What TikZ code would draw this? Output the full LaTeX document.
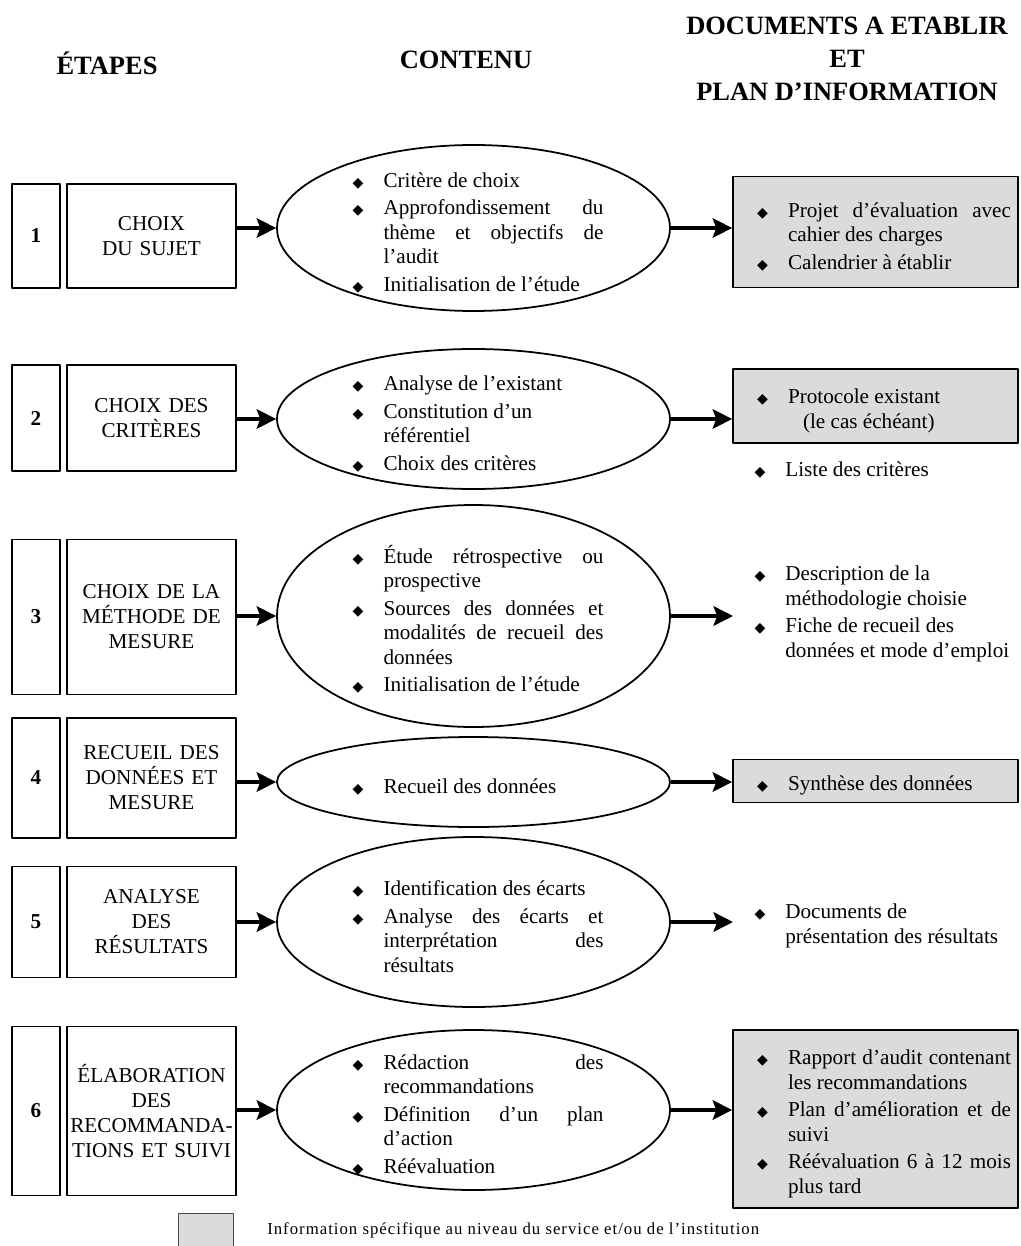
\documentclass[tikz,border=0pt]{standalone}
\usepackage{fontspec}
\setmainfont{Liberation Serif}
\newfontfamily\puces{DejaVu Sans}
\newfontfamily\legende{Liberation Serif}[LetterSpace=6]
\usepackage{enumitem}
\usetikzlibrary{shapes.geometric,arrows.meta,positioning}
\newdimen\px \px=0.567pt
\newcommand\puce{{\puces\fontsize{8}{8}\selectfont ◆}}
\setlist[itemize]{label=\puce,leftmargin=48\px,labelsep=20\px,itemsep=3\px,topsep=0pt,parsep=0pt,partopsep=0pt}
\definecolor{grisinfo}{gray}{0.86}
\begin{document}
\begin{tikzpicture}[x=\px,y=-\px,line join=round,font=\fontsize{12}{13.9}\selectfont,
		>={Stealth[length=11pt,width=11pt,inset=2pt]},
		numero/.style={draw,line width=1pt,minimum width=48\px,font=\fontsize{12}{14}\selectfont\bfseries},
		etiquette/.style={draw,line width=1pt,minimum width=169\px,text width=165\px,align=center,inner xsep=2\px,font=\fontsize{12}{14.2}\selectfont},
		bulle/.style={draw,ellipse,line width=1pt,minimum width=393\px},
		contenu/.style={text width=268\px,align=justify,inner sep=0pt,xshift=-4\px},
		doc/.style={text width=283\px,align=justify,inner xsep=4\px,inner ysep=0pt},
		gris/.style={doc,text width=271\px,inner xsep=7\px,draw,fill=grisinfo,line width=1pt},
		fleche/.style={->,line width=2pt},
		titre/.style={font=\fontsize{15}{18.5}\selectfont\bfseries,align=center}]
	\useasboundingbox (0,0) rectangle (1020,1246);
	% en-tetes
	\node[titre] (h1) at (107,63) {ÉTAPES};
	\node[titre] (h2) at (466,60) {CONTENU};
	\node[titre] (h3) at (847,59) {DOCUMENTS A ETABLIR\\ET\\PLAN D'INFORMATION};
	% etapes et bulles
	\foreach \i/\yb/\hb/\txt/\ye/\he in {
		1/236/104/{CHOIX\\DU SUJET}/228/166,
		2/418/106/{CHOIX DES\\CRITÈRES}/419/140,
		3/617/155/{CHOIX DE LA\\MÉTHODE DE\\MESURE}/616/222,
		4/778/120/{RECUEIL DES\\DONNÉES ET\\MESURE}/782/90,
		5/922/111/{ANALYSE\\DES\\RÉSULTATS}/922/170,
		6/1111/169/{ÉLABORATION\\DES\\RECOMMANDA-\\TIONS ET SUIVI}/1110/160}{
		\node[numero,minimum height=\hb\px] (n\i) at (36,\yb) {\i};
		\node[etiquette,minimum height=\hb\px] (l\i) at (151.5,\yb) {\txt};
		\node[bulle,minimum height=\he\px] (e\i) at (473.5,\ye) {};
		\draw[fleche] (l\i.east |- e\i.west) -- (e\i.west);
	};
	% contenu
	\node[contenu] (c1) at (e1) {\begin{itemize}
			\item Critère de choix
			\item Approfondissement du\linebreak thème et objectifs de\linebreak l’audit
			\item Initialisation de l’étude
		\end{itemize}};
	\node[contenu] (c2) at (e2) {\begin{itemize}
			\item Analyse de l’existant
			\item Constitution d’un\newline référentiel
			\item Choix des critères
		\end{itemize}};
	\node[contenu] (c3) at (e3) {\begin{itemize}
			\item Étude rétrospective ou\linebreak prospective
			\item Sources des données et\linebreak modalités de recueil des\linebreak données
			\item Initialisation de l’étude
		\end{itemize}};
	\node[contenu] (c4) at (e4) {\begin{itemize}
			\item Recueil des données
		\end{itemize}};
	\node[contenu] (c5) at (e5) {\begin{itemize}
			\item Identification des écarts
			\item Analyse des écarts et\linebreak interprétation des\linebreak résultats
		\end{itemize}};
	\node[contenu] (c6) at (e6) {\begin{itemize}
			\item Rédaction des\linebreak recommandations
			\item Définition d’un plan\linebreak d’action
			\item Réévaluation
		\end{itemize}};
	% documents
	\node[gris,minimum height=111\px] (d1) at (875.5,232) {\begin{itemize}
			\item Projet d’évaluation avec\linebreak cahier des charges
			\item Calendrier à établir
		\end{itemize}};
	\node[gris,minimum height=74\px] (d2) at (875.5,406) {\begin{itemize}
			\item Protocole existant\newline\hspace*{15\px}(le cas échéant)
		\end{itemize}};
	\node[doc,anchor=west] (d2b) at (733,465) {\begin{itemize}
			\item Liste des critères
		\end{itemize}};
	\node[doc,anchor=west] (d3) at (733,609) {\begin{itemize}
			\item Description de la\newline méthodologie choisie
			\item Fiche de recueil des\newline données et mode d’emploi
		\end{itemize}};
	\node[gris,minimum height=43\px] (d4) at (875.5,781) {\begin{itemize}
			\item Synthèse des données
		\end{itemize}};
	\node[doc,anchor=west] (d5) at (733,921) {\begin{itemize}
			\item Documents de\newline présentation des résultats
		\end{itemize}};
	\node[gris,minimum height=178\px] (d6) at (875.5,1119) {\begin{itemize}
			\item Rapport d’audit contenant\linebreak les recommandations
			\item Plan d’amélioration et de\linebreak suivi
			\item Réévaluation 6 à 12 mois\linebreak plus tard
		\end{itemize}};
	\foreach \i in {1,...,6}
		\draw[fleche] (e\i.east) -- (e\i.east -| d\i.west);
	% legende
	\node[draw=black!70,fill=grisinfo,line width=0.6pt,minimum width=55\px,minimum height=33\px,anchor=north west] (leg) at (178,1213) {};
	\node[right=27\px of leg,font=\legende\fontsize{9.5}{11}\selectfont] (legt) {Information spécifique au niveau du service et/ou de l’institution};
\end{tikzpicture}
\end{document}
